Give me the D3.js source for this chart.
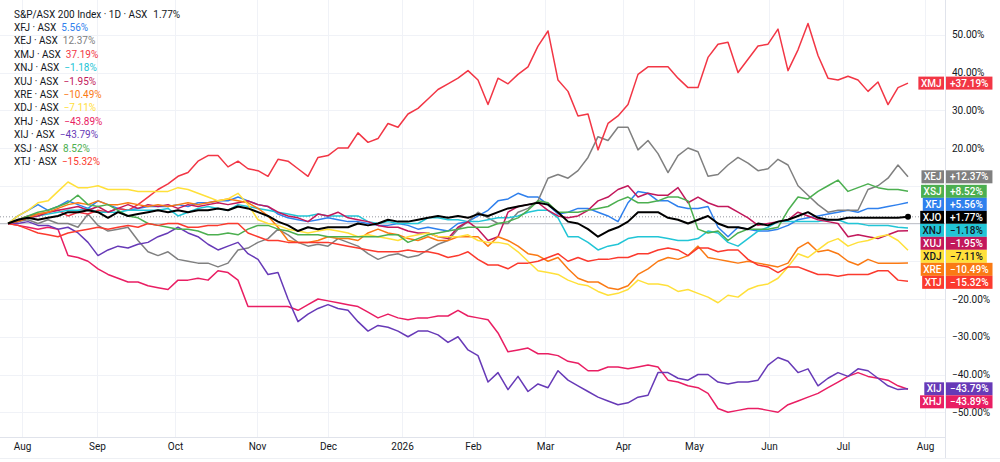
<!DOCTYPE html>
<html><head><meta charset="utf-8">
<script src="https://cdn.jsdelivr.net/npm/d3@7"></script>
<style>
body{margin:0;background:#fff;}
svg{display:block;font-family:Roboto,"Noto Sans",sans-serif;}
</style>
</head><body>
<svg id="chart" width="1000" height="462"></svg>
<script>
// ---- tick labels ----
const monthLabels = ["Aug","Sep","Oct","Nov","Dec","2026","Feb","Mar","Apr","May","Jun","Jul","Aug"];
const monthPos = [1.4, 8.9, 16.7, 24.9, 32.0, 39.4, 46.5, 53.7, 61.5, 68.6, 76.1, 83.5, 91.7];
const yTicks = [50,40,30,20,10,0,-10,-20,-30,-40,-50];

// ---- series (percent change, sampled every ~2.8 trading days) ----
const xjo = [0,1,1.5,1,1.5,2,3,3,3.5,3, 1.5,3,2,2.5,3,3.5,3,3.5,3,3.5, 3.5,4,3.5,4.5,4,3,2,0.5,-0.5,-2, -1,-1.5,-1,-1,-1,0,-0.5,0,1,0.5, 0.5,1,1.5,2,1.5,2,1.5,2.5,2,3, 4,4.5,5,5.5,5,3,0.5,0,-1.5,-3.5, -2,-1,0.5,3,3,3,1.5,1,0,1, 2,0,-1,-1,-1.5,0,-0.5,0.5,1,2, 3,1.5,1,1,1.5,1.5,1.5,1.5,1.5,1.5, 1.77];
const xfj = [0,2,3.5,5,3.5,4.5,6,5,4,6, 5,4,3.5,4,4.5,4.5,4.5,5,4.5,5.5, 5.5,6,6,7,6,5,4.5,2.5,1.5,1, 0.5,1,1.5,1,0.5,0.5,0,-0.5,-0.5,0, -0.5,-1.5,-1,-1.5,-2,0,0.5,2,3.5,6, 6.5,8,7,7,5,2.5,3,4,4,3, 2,0.5,5.5,8.5,8,6,6,4.5,4,4, 4.5,-1,-3.5,-1,-1.5,-2,-2,-1.5,-0.5,1, 1.5,2,2.5,3,3.5,3,4,4,4.5,5, 5.56];
const xej = [0,0.5,1,0,1,0,0,-1,2.5,-0.5, -2,-1.5,-1,-4.5,-7.5,-8.5,-7.5,-9.5,-10,-10.5, -10.5,-11.5,-10.5,-7,-6.5,-5,-4,-1.5,-3,-5, -6,-5.5,-6,-4,-5,-6,-8,-9.5,-8.5,-8, -9,-8.5,-7,-5.5,-4.5,-1.5,0.5,3,1.5,0, 0,3,4,6,12,13,12,14,17.5,23, 22,25.5,25.5,19.5,22,18.5,13.5,18,20,19, 12.5,13,15.5,17.5,16,14,14.5,17,15.5,10, 7.5,5,3,3.5,3.5,3.5,9,10,12,15.5, 12.37];
const xmj = [0,1,2,2.5,3,3.5,2,3,2.5,3.5, 3,4,3.5,5,7,9,10.5,12.5,13.5,16.5, 18,18,15,16.5,14.5,14,12.5,17,16.5,14.5, 12.5,17.5,18,20,20,24,21.5,22.5,26.5,25.5, 29,30.5,33,35.5,37,38.5,40.5,38,31.5,38.5, 37,39.5,41.5,47,51,38,35,28.5,29,19.5, 26.5,28.5,31.5,39.5,41.5,41.5,41.5,38.5,36,36, 44,47.5,48,40,43.5,47,47.5,51.5,40.5,46, 53,44.5,38.5,38,39,38,35,37.5,31.5,36, 37.19];
const xnj = [0,0.5,1.5,2,2.5,3,3.5,3.5,4,3, 3,3,3.5,3.5,3.5,3.5,4,2,3,4, 4.5,4,3.5,5,4.5,4,3.5,3,2.5,2, 2,2.5,2,2,2,2,0.5,0,0.5,0, 0,0,1.5,1.5,1,1,0.5,0.5,1,1.5, 1.5,2,3,3.5,3.5,1.5,-3.5,-3.5,-5,-7, -6,-5.5,-4,-3.5,-3.5,-3.5,-4,-4.5,-4.5,-4, -2,-2.5,-5,-6,-4,-2,-1,0.5,0.5,0.5, 0.5,0.5,1,1,0,0,-0.5,-0.5,-0.5,-1, -1.18];
const xuj = [0,0.5,1.5,2,3,3.5,4,4.5,3.5,4.5, 3,4,5,4,5,4.5,5,4,5,4.5, 5,5.5,5,5.5,6,5,4.5,3,2,1.5, 0.5,2.5,2,3,1.5,1,0.5,-0.5,-1,-1, -2,-2.5,-2.5,-3.5,-4,-1,0.5,-1.5,-4.5,-3.5, 3,4.5,5,5.5,3.5,2,1.5,2,3.5,6, 7,9,10,7,8,7.5,7.5,9.5,5.5,7, 5.5,4.5,4.5,3,1.5,-0.5,0,0.5,1,3, 2,1,0.5,0,-3.5,-3,-3.5,-4,-3,-2, -1.95];
const xre = [0,0.5,1.5,2.5,3,4,5,5.5,5,6, 5,5,5.5,5,4.5,5,4.5,5,5.5,5, 5.5,6,6.5,6,5.5,4,2,-1,-4.5,-5, -5,-4.5,-3.5,-4,-4,-4.5,-2.5,-1.5,-2.5,-3, -4,-4.5,-3.5,-4.5,-4.5,-3.5,-3.5,-3.5,-6,-3.5, -4.5,-6,-8,-8.5,-10,-9,-12,-14.5,-15.5,-15.5, -17,-17.5,-16.5,-13.5,-12,-10,-9,-9.5,-8.5,-6, -9,-9.5,-10,-10.5,-10,-10.5,-11,-11.5,-10.5,-6.5, -5,-7.5,-7,-8,-10,-11,-9.5,-10.5,-10.5,-10.5, -10.49];
const xdj = [0,2,3.5,5.5,6,8.5,11,9.5,9.5,10, 9,9,9,8.5,8.5,8.5,8.5,9.5,9,8, 7,6,6.5,8,5,1,0,-0.5,-1.5,-2, -2.5,-2,-1.5,-2,-2.5,-3.5,-3,-3.5,-4,-4.5, -3.5,-3,-2.5,-3.5,-3.5,-3.5,-3,-4.5,-5,-5, -5.5,-7.5,-10,-12.5,-13,-13.5,-15,-16,-16.5,-18, -19,-18.5,-17.5,-15,-16,-16,-16.5,-18,-17.5,-18.5, -19.5,-21,-19,-19.5,-17.5,-16.5,-16,-14.5,-11.5,-8, -9,-7,-5,-4,-6,-5,-4.5,-3.5,-3,-4.5, -7.11];
const xhj = [0,-0.5,-1,-1.5,-1,-1.5,-8.5,-9,-10,-12, -13.5,-14.5,-15.5,-15.5,-16.5,-17,-17.5,-15,-15,-14.5, -15,-12.5,-13,-15,-22,-22,-22,-22,-22,-23, -21.5,-20,-20.5,-21,-21.5,-22,-23.5,-25,-24,-25, -25.5,-25,-25,-24.5,-24.5,-23,-24.5,-25,-25.5,-29, -34,-33.5,-33,-34.5,-34.5,-35,-36.5,-37,-39,-39, -38,-38,-38.5,-38,-37.5,-38,-41.5,-42,-43,-43.5, -45,-49,-50,-49.5,-49,-49,-49.5,-50,-48,-47, -46,-45,-43.5,-42,-40.5,-39.5,-40.5,-41,-41.5,-43, -43.89];
const xij = [0,0,0.5,-0.5,-0.5,-1.5,-1,-2.5,-5,-8.5, -7,-6,-6.5,-5.5,-5,-3.5,-2.5,-1,-2.5,-3.5, -5.5,-7,-6,-5,-8,-9.5,-13.5,-13,-20,-26, -24,-22.5,-21.5,-22.5,-23,-26,-28.5,-27,-27.5,-28.5, -30,-28.5,-28.5,-29.5,-31.5,-30,-33.5,-35,-42,-39.5, -44,-40.5,-44.5,-42.5,-43.5,-39,-41.5,-43,-44.5,-46, -47,-48,-47.5,-46,-45.5,-39.5,-39.5,-41,-41.5,-40, -40,-42,-42.5,-42,-42,-41.5,-37.5,-35.5,-36.5,-39.5, -38.5,-43,-41,-39.5,-40.5,-38.5,-39,-41,-43,-44, -43.79];
const xsj = [0,1,2,3,3.5,4.5,5.5,7.5,5,4.5, 5,3.5,2,1.5,0,-0.5,-1,-1.5,-1.5,-2, -3,-3,-2.5,-3,-1.5,-0.5,-0.5,-1.5,-2,-3, -3,-3,-3.5,-3.5,-3.5,-3.5,-3.5,-3.5,-3,-3, -5,-4,-3,-2.5,-2,-1.5,-1,-1,-1,0, 0.5,1.5,3.5,6,5.5,3,3,3,3.5,4, 4.5,6,7,5.5,5.5,6,7,7,6,-1.5, -2.5,-2,-4.5,-2.5,-1.5,-1.5,-1.5,-1,3.5,7, 6.5,8.5,10,11.5,8.5,9.5,10.5,9.5,9,9, 8.52];
const xtj = [0,-0.5,-1.5,-2.5,-3,-3.5,-2.5,-2,-1.5,-1, -1.5,-1,-0.5,-1,0,-0.5,0,0,-1,-1, -0.5,-0.5,0,0,-2.5,-3.5,-4.5,-4.5,-5,-5, -5,-5,-5,-5.5,-6,-6.5,-7,-7.5,-7.5,-7.5, -7,-7.5,-7.5,-8,-9,-8.5,-7.5,-9.5,-11,-11, -12,-10.5,-10.5,-10,-9,-8,-10,-9,-10,-9.5, -9.5,-9,-9,-8,-8,-7,-6.5,-7,-8.5,-6.5, -6.5,-7.5,-7,-7,-9.5,-11,-11.5,-13,-11.5,-11.5, -12.5,-13.5,-13.5,-14,-13.5,-13.5,-13.5,-12.5,-12.5,-15, -15.32];

const tickers = ["XFJ","XEJ","XMJ","XNJ","XUJ","XRE","XDJ","XHJ","XIJ","XSJ","XTJ"];
const seriesValues = [xfj,xej,xmj,xnj,xuj,xre,xdj,xhj,xij,xsj,xtj];
const colors = ["#2f80ed","#808080","#f23645","#22c5d6","#c2185b","#fa7a14","#ffe03a","#e91e63","#673ab7","#4caf50","#fb3a2e"];
const badgeText = ["#fff","#fff","#fff","#131722","#fff","#fff","#131722","#fff","#fff","#fff","#fff"];

const svg = d3.select("#chart");
const W = 1000, H = 462, plotR = 945, plotB = 437;
const x = d3.scaleLinear().domain([0, 90]).range([8, 908]);
const y = d3.scaleLinear().domain([-50, 50]).range([412.25, 34.75]);
const FS = 10;

// grid
const grid = svg.append("g");
grid.selectAll("line.h").data(yTicks).join("line")
  .attr("x1",0).attr("x2",plotR).attr("y1",d=>Math.round(y(d))+0.5).attr("y2",d=>Math.round(y(d))+0.5)
  .attr("stroke","#f0f2f7");
grid.selectAll("line.v").data(monthPos).join("line")
  .attr("y1",0).attr("y2",plotB).attr("x1",d=>Math.round(x(d))+0.5).attr("x2",d=>Math.round(x(d))+0.5)
  .attr("stroke","#f0f2f7");

// zero line and last-price line of the main index
svg.append("line").attr("x1",0).attr("x2",plotR).attr("y1",y(0)).attr("y2",y(0))
  .attr("stroke","#c4c6cc").attr("stroke-width",1);
svg.append("line").attr("x1",0).attr("x2",plotR).attr("y1",y(xjo[xjo.length-1])).attr("y2",y(xjo[xjo.length-1]))
  .attr("stroke","#9598a1").attr("stroke-width",1).attr("stroke-dasharray","1,2");

// borders
svg.append("line").attr("x1",plotR+0.5).attr("x2",plotR+0.5).attr("y1",0).attr("y2",458).attr("stroke","#e0e3eb");
svg.append("line").attr("x1",0).attr("x2",plotR).attr("y1",plotB+0.5).attr("y2",plotB+0.5).attr("stroke","#e0e3eb");
svg.append("line").attr("x1",0).attr("x2",W).attr("y1",458.5).attr("y2",458.5).attr("stroke","#eef0f4");

// lines
svg.append("clipPath").attr("id","clip").append("rect").attr("x",0).attr("y",0).attr("width",plotR).attr("height",plotB);
const lineGen = d3.line().x((d,i)=>x(i)).y(d=>y(d)).curve(d3.curveLinear);
const lg = svg.append("g").attr("clip-path","url(#clip)");
seriesValues.forEach((vals,k)=>{
  lg.append("path").datum(vals).attr("d",lineGen).attr("fill","none")
    .attr("stroke",colors[k]).attr("stroke-width",1.5).attr("stroke-linejoin","round");
});
lg.append("path").datum(xjo).attr("d",lineGen).attr("fill","none")
  .attr("stroke","#000").attr("stroke-width",2).attr("stroke-linejoin","round");
svg.append("circle").attr("cx",x(xjo.length-1)).attr("cy",y(xjo[xjo.length-1])).attr("r",3).attr("fill","#000");

// badges layout
const fmtSigned = v => (v>=0?"+":"\u2212") + Math.abs(v).toFixed(2) + "%";
const fmtLegend = v => (v<0?"\u2212":"") + Math.abs(v).toFixed(2) + "%";
let badges = tickers.map((t,k)=>({name:t, v:seriesValues[k][seriesValues[k].length-1], bg:colors[k], fg:badgeText[k]}));
badges.push({name:"XJO", v:xjo[xjo.length-1], bg:"#000", fg:"#fff"});
badges.forEach(b=>b.y=y(b.v));
badges.sort((a,b)=>a.y-b.y);
const BH = 13;
for(let i=1;i<badges.length;i++){
  if(badges[i].y < badges[i-1].y + BH) badges[i].y = badges[i-1].y + BH;
}

// y axis labels (skip those hidden under badges)
const yAxis = d3.axisRight(y).tickValues(yTicks.filter(t=>!badges.some(b=>Math.abs(y(t)-b.y)<BH/2)))
  .tickSize(0).tickPadding(6).tickFormat(d=>(d<0?"\u2212":"")+Math.abs(d).toFixed(2)+"%");
const ya = svg.append("g").attr("transform",`translate(${plotR+1},0)`).call(yAxis);
ya.select(".domain").remove();
ya.selectAll("text").attr("font-size",FS).attr("fill","#131722").attr("font-family","Roboto,sans-serif");

// x axis
const xAxis = d3.axisBottom(x).tickValues(monthPos).tickSize(0).tickPadding(6)
  .tickFormat((d,i)=>monthLabels[i]);
const xa = svg.append("g").attr("transform",`translate(0,${plotB})`).call(xAxis);
xa.select(".domain").remove();
xa.selectAll("text").attr("font-size",FS).attr("fill","#131722").attr("font-family","Roboto,sans-serif");

// badges
const bg = svg.append("g").attr("font-size",FS);
badges.forEach(b=>{
  const g = bg.append("g").attr("transform",`translate(0,${b.y})`);
  const t1 = g.append("text").text(b.name).attr("fill",b.fg).attr("text-anchor","middle").attr("dy","0.35em").attr("font-weight",500);
  const w1 = t1.node().getComputedTextLength() + 5;
  const t2 = g.append("text").text(fmtSigned(b.v)).attr("fill",b.fg).attr("text-anchor","middle").attr("dy","0.35em").attr("font-weight",500);
  const w2 = t2.node().getComputedTextLength() + 8;
  g.insert("rect","text").attr("x",plotR-1-w1).attr("y",-BH/2).attr("width",w1).attr("height",BH).attr("fill",b.bg);
  g.insert("rect","text").attr("x",plotR+1).attr("y",-BH/2).attr("width",w2).attr("height",BH).attr("fill",b.bg);
  t1.attr("x",plotR-1-w1/2);
  t2.attr("x",plotR+1+w2/2);
});

// legend
const legendRows = [{label:"S&P/ASX 200 Index \u00b7 1D \u00b7 ASX", v:xjo[xjo.length-1], c:"#131722", gap:6}]
  .concat(tickers.map((t,k)=>({label:t+" \u00b7 ASX", v:seriesValues[k][seriesValues[k].length-1], c:colors[k], gap:5})));
const leg = svg.append("g").attr("font-size",FS);
legendRows.forEach((r,i)=>{
  const cy = 14 + i*13.4;
  const t = leg.append("text").attr("x",14).attr("y",cy).attr("dy","0.35em").attr("fill","#131722").text(r.label);
  const w = t.node().getComputedTextLength();
  leg.append("text").attr("x",14+w+r.gap).attr("y",cy).attr("dy","0.35em").attr("fill",r.c).text(fmtLegend(r.v));
});
</script>
</body></html>
